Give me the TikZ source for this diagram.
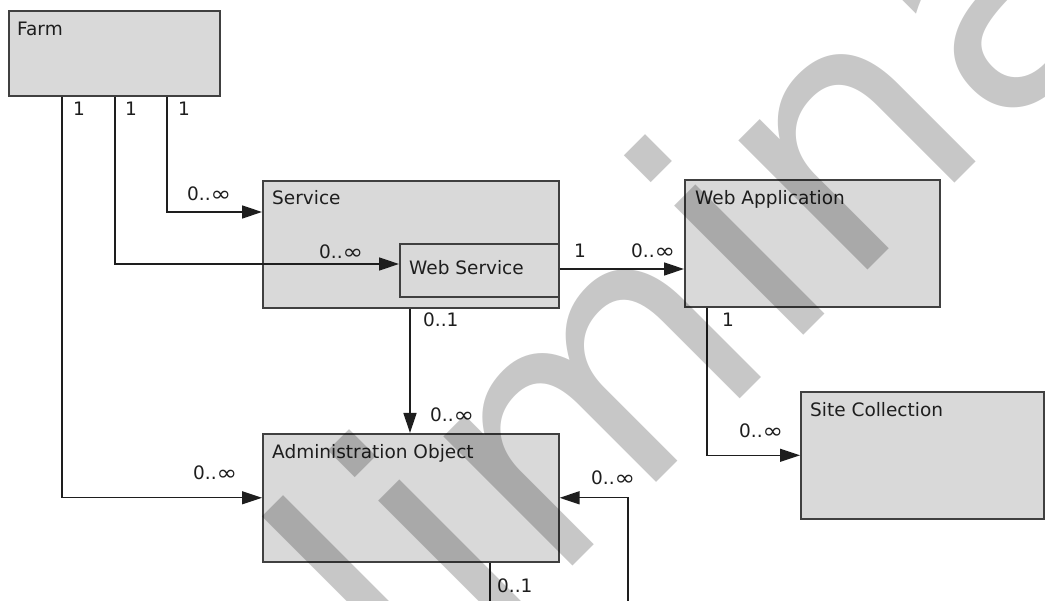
\documentclass[tikz,border=0pt]{standalone}
\usepackage{fontspec}
\setmainfont{DejaVu Sans}
\usetikzlibrary{arrows.meta,calc}
\definecolor{boxfill}{HTML}{D9D9D9}
\definecolor{boxline}{HTML}{404040}
\definecolor{ink}{HTML}{1E1E1E}
\newcommand{\myinf}{\raisebox{-0.3pt}{\scalebox{1.33}[1.15]{∞}}}
\begin{document}
\begin{tikzpicture}[x=1pt,y=-1pt,
  box/.style={draw=boxline, fill=boxfill, line width=1.6pt, rectangle, inner sep=0pt, anchor=north west},
  txt/.style={font=\fontsize{18.5}{22}\selectfont, text=ink, inner sep=0pt, anchor=base west},
  conn/.style={draw=ink, line width=1.4pt},
  arr/.style={conn, -{Triangle[length=20pt,width=13pt]}},
  wmark/.style={rotate=45, anchor=base west, inner sep=0pt, text=black, text opacity=0.22, font=\fontsize{334}{334}\selectfont}
]
\useasboundingbox (0,0) rectangle (1045,601);
\fill[white] (0,0) rectangle (1045,601);
\begin{scope}
\clip (0,0) rectangle (1045,601);
% boxes
\node[box, minimum width=211pt, minimum height=85pt] (farm) at (8,10) {};
\node[box, minimum width=296pt, minimum height=127pt] (service) at (262,180) {};
\node[box, minimum width=159pt, minimum height=53pt] (websvc) at (399,243) {};
\node[box, minimum width=255pt, minimum height=127pt] (webapp) at (684,179) {};
\node[box, minimum width=243pt, minimum height=127pt] (site) at (800,391) {};
\node[box, minimum width=296pt, minimum height=128pt] (admin) at (262,433) {};
% titles
\node[txt] (farmT) at (17,36) {Farm};
\node[txt] (serviceT) at (272,205) {Service};
\node[txt] (websvcT) at (409,275) {Web Service};
\node[txt] (webappT) at (695,205) {Web Application};
\node[txt] (siteT) at (810,417) {Site Collection};
\node[txt] (adminT) at (272,459) {Administration Object};
% free ends of the cut-off self loop
\coordinate (loopA) at (490,601);
\coordinate (loopB) at (628,601);
% connectors
\draw[arr] ($(farm.south west)+(159,0)$) |- ($(service.north west)+(0,32)$);
\draw[arr] ($(farm.south west)+(107,0)$) |- ($(websvc.north west)+(0,21)$);
\draw[arr] ($(farm.south west)+(54,0)$) |- (admin.west);
\draw[arr] ($(websvc.north east)+(0,26)$) -- ($(webapp.north west)+(0,90)$);
\draw[arr] ($(service.south west)+(148,0)$) -- ($(admin.north west)+(148,0)$);
\draw[arr] ($(webapp.south west)+(23,0)$) |- (site.west);
\draw[conn] ($(admin.south west)+(228,0)$) -- (loopA);
\draw[arr] (loopB) |- (admin.east);
% multiplicities
\node[txt] (m1) at (73,116) {1};
\node[txt] (m2) at (125,116) {1};
\node[txt] (m3) at (178,116) {1};
\node[txt] (m4) at (187,201) {0..\myinf};
\node[txt] (m5) at (319,259) {0..\myinf};
\node[txt] (m6) at (574,258) {1};
\node[txt] (m7) at (631,258) {0..\myinf};
\node[txt] (m8) at (423,327) {0..1};
\node[txt] (m9) at (430,422) {0..\myinf};
\node[txt] (m10) at (193,480) {0..\myinf};
\node[txt] (m11) at (722,327) {1};
\node[txt] (m12) at (739,438) {0..\myinf};
\node[txt] (m13) at (497,592) {0..1};
\node[txt] (m14) at (591,485) {0..\myinf};
% watermark
\node[wmark] (wm) at (32.5,1105.9) {preliminary};
\end{scope}
\end{tikzpicture}
\end{document}
